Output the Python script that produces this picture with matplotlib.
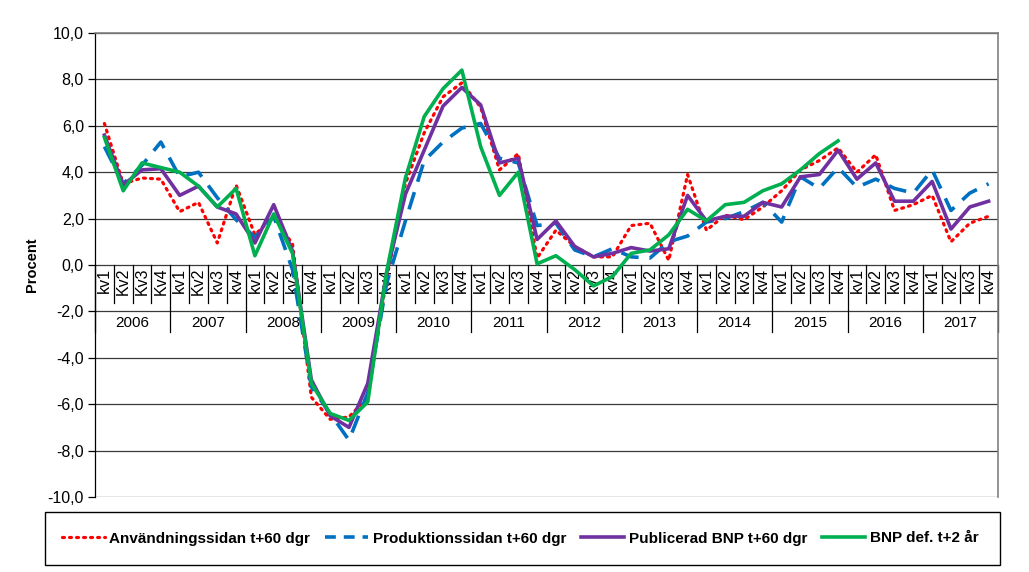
import matplotlib
matplotlib.use("Agg")
import matplotlib.pyplot as plt
from matplotlib.patches import Rectangle
from matplotlib.lines import Line2D

# Kvartal och år på kategoriaxeln
years = ['2006', '2007', '2008', '2009', '2010', '2011',
         '2012', '2013', '2014', '2015', '2016', '2017']
quarters = (['kv1', 'Kv2', 'Kv3', 'Kv4'] + ['kv1', 'Kv2', 'kv3', 'kv4']
            + ['kv1', 'kv2', 'kv3', 'kv4'] * 10)

# Årlig BNP-tillväxt (procent)
anvandning = [6.1, 3.5, 3.75, 3.7, 2.3, 2.7, 0.95, 3.45,
              1.3, 2.1, 0.9, -5.7, -6.65, -6.55, -5.7, -0.6,
              3.5, 5.7, 7.25, 7.85, 6.8, 4.1, 4.8, 0.3,
              1.5, 0.8, 0.35, 0.35, 1.7, 1.8, 0.2, 3.9,
              1.5, 2.15, 1.95, 2.5, 3.2, 4.1, 4.5, 5.05,
              4.0, 4.75, 2.35, 2.6, 3.0, 1.0, 1.8, 2.1]
produktion = [5.1, 3.5, 4.3, 5.3, 3.8, 4.0, 2.9, 1.95,
              1.2, 2.1, -0.2, -5.25, -6.4, -7.55, -5.5, -0.8,
              1.9, 4.5, 5.3, 5.9, 6.1, 4.6, 4.4, 1.7,
              1.8, 0.65, 0.35, 0.7, 0.35, 0.3, 1.0, 1.25,
              1.85, 2.0, 2.3, 2.7, 1.85, 3.8, 3.3, 4.2,
              3.35, 3.7, 3.3, 3.1, 4.1, 2.35, 3.1, 3.5]
publicerad = [5.6, 3.45, 4.1, 4.15, 3.0, 3.4, 2.5, 2.2,
              0.95, 2.6, 0.6, -4.95, -6.5, -7.0, -5.1, -0.35,
              3.05, 4.95, 6.85, 7.65, 6.9, 4.4, 4.6, 1.1,
              1.9, 0.8, 0.35, 0.5, 0.75, 0.6, 0.7, 3.0,
              1.9, 2.1, 2.1, 2.7, 2.5, 3.8, 3.9, 4.95,
              3.7, 4.4, 2.75, 2.75, 3.6, 1.55, 2.5, 2.75]
bnp_def = [5.5, 3.2, 4.4, 4.2, 4.0, 3.4, 2.5, 3.3,
           0.4, 2.2, 0.5, -5.1, -6.4, -6.7, -5.9, -0.3,
           3.75, 6.4, 7.6, 8.4, 5.1, 3.0, 4.0, 0.05,
           0.4, -0.2, -0.9, -0.5, 0.5, 0.65, 1.3, 2.4,
           1.9, 2.6, 2.7, 3.2, 3.5, 4.1, 4.8, 5.35]

labels = ['Användningssidan t+60 dgr', 'Produktionssidan t+60 dgr',
          'Publicerad BNP t+60 dgr', 'BNP def. t+2 år']

plt.rcParams['font.family'] = ['Liberation Sans', 'DejaVu Sans']

fig = plt.figure(figsize=(10.29, 5.72), dpi=100)
ax = fig.add_axes([95 / 1029, 1 - 497 / 572, 903 / 1029, 464 / 572])

x = list(range(len(quarters)))

# Horisontella stödlinjer
for yv in range(-10, 11, 2):
    ax.axhline(yv, color='#3a3a3a', lw=0.9, zorder=1)

# Skiljelinjer för kvartal och år nedanför nollinjen
for k in range(len(quarters) + 1):
    low = -2.9 if k % 4 == 0 else -1.65
    ax.plot([k - 0.5, k - 0.5], [0, low], color='black', lw=0.9, zorder=1,
            clip_on=False)

for i, q in enumerate(quarters):
    ax.text(i, -0.12, q, rotation=90, ha='center', va='top', fontsize=11.5)
for j, yr in enumerate(years):
    ax.text(4 * j + 1.5, -2.5, yr, ha='center', va='center', fontsize=11)

# Serierna
ax.plot(x, anvandning, color='#FF0000', lw=2.3, linestyle=(0, (0.6, 1.6)),
        dash_capstyle='round', zorder=3)
ax.plot(x, produktion, color='#0070C0', lw=2.6, linestyle=(0, (5, 3)), zorder=3)
ax.plot(x, publicerad, color='#7030A0', lw=2.6, zorder=4)
ax.plot(x[:len(bnp_def)], bnp_def, color='#00B050', lw=2.6, zorder=5)

ax.set_xlim(-0.5, len(quarters) - 0.5)
ax.set_ylim(-10, 10)
ax.set_yticks(range(-10, 11, 2))
ax.set_yticklabels([f'{v:.1f}'.replace('.', ',') for v in range(-10, 11, 2)],
                   fontsize=11.5)
ax.set_xticks([])
ax.tick_params(axis='y', direction='out', length=5, width=0.9, pad=3)
ax.set_ylabel('Procent', fontweight='bold', fontsize=10.5, labelpad=6)

for side in ['top', 'right']:
    ax.spines[side].set_color('#808080')
    ax.spines[side].set_linewidth(1.2)
ax.spines['left'].set_linewidth(0.9)
ax.spines['bottom'].set_visible(False)

# Förklaring i ram under diagrammet
handles = [
    Line2D([], [], color='#FF0000', lw=2.3, linestyle=(0, (0.6, 1.6)),
           dash_capstyle='round'),
    Line2D([], [], color='#0070C0', lw=2.6, linestyle=(0, (3, 2.2))),
    Line2D([], [], color='#7030A0', lw=2.6),
    Line2D([], [], color='#00B050', lw=2.6),
]
fig.patches.append(Rectangle((45 / 1029, 1 - 565 / 572), 955 / 1029, 53 / 572,
                             transform=fig.transFigure, fill=False,
                             edgecolor='black', lw=1.0))
fig.legend(handles, labels, loc='center', bbox_to_anchor=(520 / 1029, 1 - 538.5 / 572),
           ncol=4, frameon=False, handlelength=2.8, handletextpad=0.3,
           columnspacing=1.0, prop={'weight': 'bold', 'size': 11})

fig.savefig('out.png', dpi=100)
